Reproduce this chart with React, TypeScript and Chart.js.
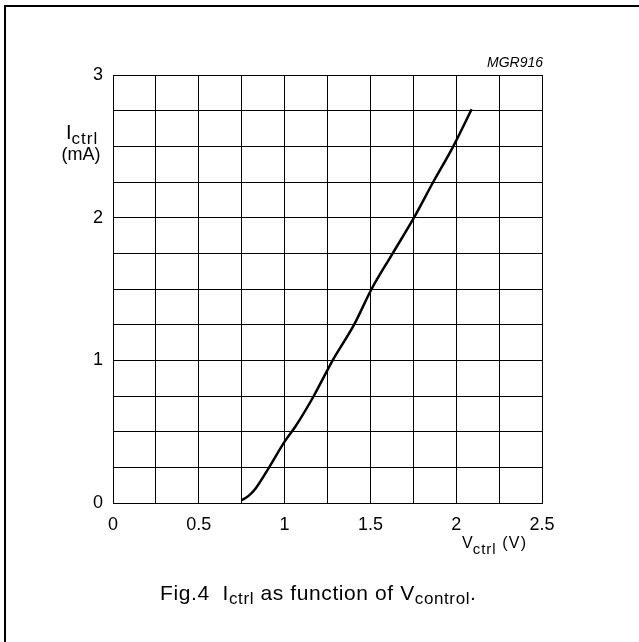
import React, { useEffect, useRef } from "react";
import { Chart, registerables } from "chart.js";

Chart.register(...registerables);

const vCtrl = [0.75, 0.79, 0.83, 0.91, 1.0, 1.065, 1.17, 1.225, 1.28, 1.405, 1.507, 1.63, 1.754, 1.866, 1.983, 2.09];
const iCtrl = [0.02, 0.05, 0.1, 0.25, 0.43, 0.54, 0.75, 0.875, 1.0, 1.25, 1.5, 1.75, 2.0, 2.25, 2.5, 2.76];
const xMax = 2.5;
const yMax = 3;
const gridStep = 0.25;

const FONT = '"Liberation Sans", Arial, sans-serif';

type Run = { t: string; size: number; dy: number; italic?: boolean; ls?: number };

function drawRuns(ctx: CanvasRenderingContext2D, x: number, y: number, runs: Run[]) {
  let cx = x;
  for (const r of runs) {
    ctx.font = `${r.italic ? "italic " : ""}${r.size}px ${FONT}`;
    (ctx as any).letterSpacing = `${r.ls ?? 0}px`;
    ctx.fillText(r.t, cx, y + r.dy);
    cx += ctx.measureText(r.t).width;
  }
  (ctx as any).letterSpacing = "0px";
  return cx;
}

const textPlugin = {
  id: "texts",
  afterDraw(chart: any) {
    const ctx = chart.ctx as CanvasRenderingContext2D;
    const { right, top, bottom } = chart.chartArea;
    ctx.save();
    // frame
    ctx.strokeStyle = "#000";
    ctx.lineWidth = 2;
    ctx.beginPath();
    ctx.moveTo(5, 642);
    ctx.lineTo(5, 6);
    ctx.lineTo(639, 6);
    ctx.stroke();

    ctx.fillStyle = "#000";
    ctx.textBaseline = "alphabetic";
    ctx.textAlign = "right";
    ctx.font = `italic 14px ${FONT}`;
    ctx.fillText("MGR916", right + 1, top - 8);

    ctx.textAlign = "left";
    // y axis title
    drawRuns(ctx, 66, 139, [
      { t: "I", size: 20, dy: 0 },
      { t: "ctrl", size: 17, dy: 5, ls: 1 },
    ]);
    ctx.textAlign = "center";
    ctx.font = `18px ${FONT}`;
    ctx.fillText("(mA)", 81, 160);
    ctx.textAlign = "left";

    // x axis title
    drawRuns(ctx, 462, bottom + 45, [
      { t: "V", size: 16, dy: 0 },
      { t: "ctrl", size: 15, dy: 6, ls: 1 },
      { t: " (V)", size: 16, dy: 0, ls: 1.2 },
    ]);

    // caption
    drawRuns(ctx, 160, 600, [
      { t: "Fig.4  I", size: 21, dy: 0, ls: 0.6 },
      { t: "ctrl", size: 17, dy: 4, ls: 0.6 },
      { t: " as function of V", size: 21, dy: 0, ls: 0.6 },
      { t: "control", size: 17, dy: 4, ls: 0.6 },
      { t: ".", size: 21, dy: 0 },
    ]);
    ctx.restore();
  },
};

export default function App() {
  const ref = useRef<HTMLCanvasElement>(null);
  useEffect(() => {
    if (!ref.current) return;
    const chart = new Chart(ref.current, {
      type: "line",
      data: {
        datasets: [
          {
            data: vCtrl.map((v, i) => ({ x: v, y: iCtrl[i] })),
            borderColor: "#000",
            borderWidth: 2.5,
            pointRadius: 0,
            cubicInterpolationMode: "monotone",
            fill: false,
          },
        ],
      },
      options: {
        animation: false,
        responsive: false,
        events: [],
        layout: { padding: { left: 0, top: 75, right: 97, bottom: 0 } },
        plugins: { legend: { display: false }, tooltip: { enabled: false } },
        scales: {
          x: {
            type: "linear",
            min: 0,
            max: xMax,
            afterFit: (s: any) => {
              s.height = 139;
            },
            border: { display: true, color: "#000", width: 1 },
            grid: { color: "#000", lineWidth: 1, drawTicks: false },
            ticks: {
              stepSize: gridStep,
              autoSkip: false,
              maxRotation: 0,
              padding: 11,
              color: "#000",
              font: { family: FONT, size: 18 },
              callback: (v: any) => (Math.abs(v * 2 - Math.round(v * 2)) < 1e-6 ? String(Number(v)) : ""),
            },
          },
          y: {
            type: "linear",
            min: 0,
            max: yMax,
            afterFit: (s: any) => {
              s.width = 113;
            },
            border: { display: true, color: "#000", width: 1 },
            grid: { color: "#000", lineWidth: 1, drawTicks: false },
            ticks: {
              stepSize: gridStep,
              autoSkip: false,
              padding: 10,
              color: "#000",
              font: { family: FONT, size: 18 },
              callback: (v: any) => (Math.abs(v - Math.round(v)) < 1e-6 ? String(Number(v)) : ""),
            },
          },
        },
      },
      plugins: [textPlugin],
    } as any);
    return () => chart.destroy();
  }, []);
  return (
    <div style={{ position: "absolute", left: 0, top: 0, width: 639, height: 642, background: "#fff" }}>
      <canvas ref={ref} width={639} height={642} style={{ display: "block" }} />
    </div>
  );
}
